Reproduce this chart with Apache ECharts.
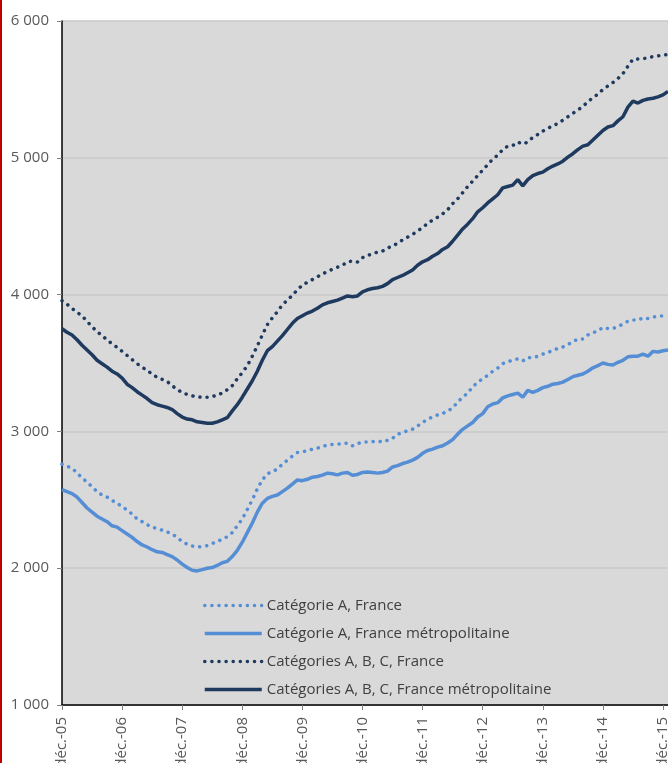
<!DOCTYPE html>
<html>
<head>
<meta charset="utf-8">
<script src="https://cdn.jsdelivr.net/npm/echarts@6/dist/echarts.min.js"></script>
<style>
  html, body { margin: 0; padding: 0; background: #fff; }
  #chart { width: 668px; height: 763px; }
  .redline { position: absolute; left: 0; top: 0; width: 2px; height: 763px; background: #c00000; z-index: 5; }
</style>
</head>
<body>
<div class="redline"></div>
<div id="chart"></div>
<script>
  // mois (abréviations) pour les catégories, déc.-05 -> janv.-16
  var monthNames = ['janv.', 'févr.', 'mars', 'avr.', 'mai', 'juin', 'juil.', 'août', 'sept.', 'oct.', 'nov.', 'déc.']
  var yTicks = [1000, 2000, 3000, 4000, 5000, 6000]

  // Catégorie A, France
  var catAFrance = [
    2760, 2745, 2732, 2696, 2660, 2630, 2595, 2560, 2535, 2520, 2495, 2475,
    2450, 2425, 2396, 2360, 2340, 2318, 2300, 2290, 2278, 2265, 2250, 2225,
    2195, 2175, 2162, 2155, 2158, 2165, 2180, 2195, 2212, 2230, 2260, 2310,
    2360, 2430, 2500, 2580, 2645, 2690, 2705, 2725, 2760, 2790, 2820, 2845,
    2850, 2860, 2870, 2878, 2890, 2900, 2905, 2908, 2910, 2915, 2895, 2910,
    2922, 2923, 2925, 2930, 2922, 2935, 2950, 2980, 2990, 3005, 3017, 3040,
    3065, 3090, 3105, 3120, 3130, 3150, 3170, 3215, 3250, 3280, 3325, 3360,
    3385, 3410, 3440, 3463, 3495, 3510, 3520, 3530, 3515, 3540, 3538, 3550,
    3565, 3575, 3595, 3605, 3617, 3635, 3655, 3675, 3675, 3705, 3720, 3735,
    3760, 3752, 3752, 3765, 3785, 3805, 3814, 3814, 3830, 3825, 3835, 3843,
    3843, 3845
  ]
  // Catégorie A, France métropolitaine
  var catAMetro = [
    2575, 2560, 2545, 2520, 2480, 2440, 2410, 2380, 2360, 2340, 2310, 2300,
    2275, 2250, 2225, 2195, 2170, 2155, 2135, 2120, 2115, 2100, 2085, 2060,
    2030, 2005, 1985, 1980, 1990, 2000, 2005, 2020, 2040, 2050, 2085, 2130,
    2190, 2260, 2330, 2410, 2475, 2510, 2525, 2535, 2560, 2585, 2615, 2645,
    2640, 2650, 2665, 2670, 2680, 2695, 2690, 2682, 2695, 2700, 2680, 2685,
    2700, 2703, 2700, 2695, 2700, 2710, 2740, 2750, 2765, 2775, 2790, 2810,
    2840, 2860, 2870, 2885, 2895, 2915, 2940, 2980, 3015, 3040, 3065, 3105,
    3130, 3180, 3200, 3210, 3245, 3260, 3270, 3280, 3250, 3300, 3285, 3300,
    3320, 3330, 3345, 3350, 3360, 3380, 3400, 3410, 3420, 3440, 3465, 3480,
    3500, 3490, 3485, 3505, 3520, 3545, 3550, 3550, 3565, 3550, 3585, 3580,
    3590, 3595
  ]
  // Catégories A, B, C, France
  var catABCFrance = [
    3955, 3930, 3900, 3870, 3845, 3805, 3765, 3730, 3700, 3670, 3640, 3615,
    3585, 3555, 3525, 3495, 3470, 3445, 3420, 3395, 3380, 3365, 3335, 3305,
    3285, 3270, 3260, 3252, 3250, 3250, 3255, 3265, 3280, 3305, 3335, 3385,
    3430, 3480, 3550, 3625, 3705, 3780, 3830, 3875, 3925, 3960, 3995, 4035,
    4070, 4090, 4110, 4130, 4150, 4170, 4185, 4200, 4215, 4240, 4245, 4238,
    4270, 4285, 4300, 4310, 4318, 4340, 4355, 4375, 4400, 4420, 4440, 4465,
    4490, 4520, 4545, 4565, 4590, 4620, 4665, 4700, 4745, 4790, 4830, 4870,
    4910, 4950, 4990, 5020, 5060, 5085, 5090, 5115, 5100, 5115, 5150, 5170,
    5195, 5215, 5235, 5250, 5275, 5300, 5325, 5350, 5375, 5410, 5440, 5465,
    5500, 5525, 5550, 5580, 5615, 5670, 5720, 5722, 5725, 5730, 5740, 5745,
    5750, 5755
  ]
  // Catégories A, B, C, France métropolitaine
  var catABCMetro = [
    3750, 3725, 3705, 3670, 3630, 3595, 3560, 3520, 3495, 3470, 3440, 3420,
    3390, 3345, 3320, 3290, 3265, 3240, 3210, 3195, 3185, 3175, 3160, 3130,
    3105, 3090, 3085, 3070, 3065, 3060, 3060, 3070, 3085, 3100, 3150, 3195,
    3250, 3310, 3370, 3440, 3520, 3590, 3620, 3660, 3700, 3745, 3790, 3825,
    3845, 3865, 3880, 3900, 3925, 3940, 3950, 3960, 3975, 3990, 3985, 3990,
    4020, 4035, 4045, 4050, 4060, 4080, 4110, 4125, 4140, 4160, 4180, 4215,
    4240, 4255, 4280, 4300, 4330, 4350, 4390, 4435, 4480, 4515, 4555, 4605,
    4635, 4670, 4700, 4730, 4780, 4790, 4800, 4840, 4795, 4840, 4870, 4885,
    4895, 4920, 4940, 4955, 4975, 5005, 5030, 5060, 5085, 5095, 5130, 5165,
    5200, 5225, 5235, 5270, 5300, 5370, 5415, 5400, 5420, 5430, 5435, 5445,
    5460, 5485
  ]

  var categories = []
  for (var k = 0; k < catAMetro.length; k++) {
    var m = (11 + k) % 12
    var y = 5 + Math.floor((11 + k) / 12)
    categories.push(monthNames[m] + '-' + (y < 10 ? '0' + y : y))
  }

  var lightBlue = '#558ed5'
  var darkBlue = '#1f3a5f'
  var font = '"Open Sans", "Noto Sans", sans-serif'
  var dots = [0.1, 7]

  var myChart = echarts.init(document.getElementById('chart'))
  var option = {
    animation: false,
    textStyle: { fontFamily: font },
    grid: {
      left: 62, right: 0, top: 21, bottom: 58,
      outerBoundsMode: 'none',
      show: true, backgroundColor: '#d9d9d9', borderWidth: 0
    },
    legend: {
      orient: 'vertical',
      left: 198, top: 593,
      itemWidth: 57, itemHeight: 14, itemGap: 13,
      itemStyle: { opacity: 0 },
      lineStyle: { width: 3.5 },
      textStyle: { color: '#404040', fontSize: 15, fontFamily: font },
      data: ['Catégorie A, France', 'Catégorie A, France métropolitaine',
        'Catégories A, B, C, France', 'Catégories A, B, C, France métropolitaine']
    },
    xAxis: {
      type: 'category',
      boundaryGap: false,
      data: categories,
      axisLine: { lineStyle: { color: '#000', width: 1.5 } },
      axisTick: { interval: 11, length: 5, lineStyle: { color: '#808080' } },
      axisLabel: { interval: 11, rotate: 90, margin: 12, color: '#595959', fontSize: 15 },
      splitLine: { show: false }
    },
    yAxis: {
      type: 'value',
      min: yTicks[0], max: yTicks[yTicks.length - 1], interval: 1000,
      axisLine: { show: true, lineStyle: { color: '#000', width: 1.5 } },
      axisTick: { show: true, length: 5, lineStyle: { color: '#808080' } },
      axisLabel: {
        margin: 13, color: '#595959', fontSize: 15,
        formatter: function (v) { return String(v).replace(/\B(?=(\d{3})+(?!\d))/g, ' ') }
      },
      splitLine: { lineStyle: { color: '#c8c8c8', width: 1.5 } }
    },
    series: [
      {
        name: 'Catégorie A, France', type: 'line', data: catAFrance,
        symbol: 'none', color: lightBlue,
        lineStyle: { color: lightBlue, width: 3.5, type: dots, cap: 'round' }
      },
      {
        name: 'Catégorie A, France métropolitaine', type: 'line', data: catAMetro,
        symbol: 'none', color: lightBlue,
        lineStyle: { color: lightBlue, width: 3.5 }
      },
      {
        name: 'Catégories A, B, C, France', type: 'line', data: catABCFrance,
        symbol: 'none', color: darkBlue,
        lineStyle: { color: darkBlue, width: 3.5, type: dots, cap: 'round' }
      },
      {
        name: 'Catégories A, B, C, France métropolitaine', type: 'line', data: catABCMetro,
        symbol: 'none', color: darkBlue,
        lineStyle: { color: darkBlue, width: 3.5 }
      }
    ]
  }
  myChart.setOption(option)
</script>
</body>
</html>
